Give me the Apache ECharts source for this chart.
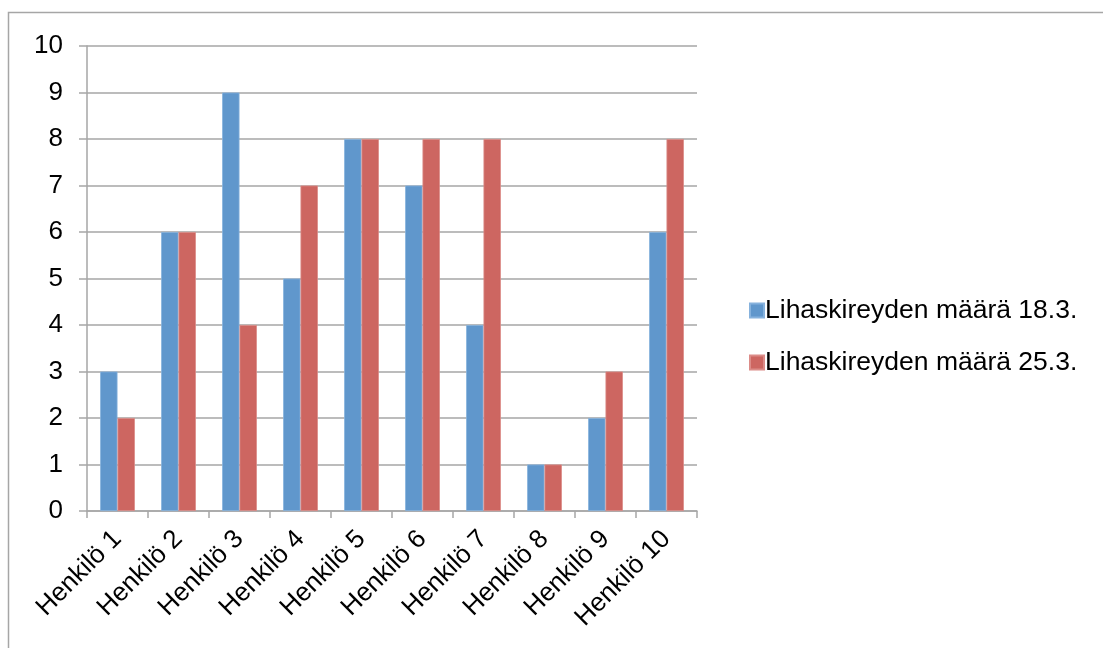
<!DOCTYPE html>
<html>
<head>
<meta charset="utf-8">
<script src="https://cdn.jsdelivr.net/npm/echarts@6/dist/echarts.min.js"></script>
<style>
  html, body { margin: 0; padding: 0; background: #fff; }
  #chart { width: 1103px; height: 648px; }
</style>
</head>
<body>
<div id="chart"></div>
<script>
// Henkilöt ja lihaskireyden määrät kahtena mittauspäivänä
const categories = ['Henkilö 1', 'Henkilö 2', 'Henkilö 3', 'Henkilö 4', 'Henkilö 5',
                    'Henkilö 6', 'Henkilö 7', 'Henkilö 8', 'Henkilö 9', 'Henkilö 10'];
const seriesNames = ['Lihaskireyden määrä 18.3.', 'Lihaskireyden määrä 25.3.'];
const values183 = [3, 6, 9, 5, 8, 7, 4, 1, 2, 6];
const values253 = [2, 6, 4, 7, 8, 8, 8, 1, 3, 8];

const FONT = '"Liberation Sans", Arial, sans-serif';
const GRID = '#a6a6a6';

const chart = echarts.init(document.getElementById('chart'), null, { renderer: 'canvas' });
chart.setOption({
  animation: false,
  backgroundColor: '#fff',
  graphic: [{
    type: 'rect',
    shape: { x: 8.5, y: 12.5, width: 1200, height: 800 },
    style: { fill: 'none', stroke: GRID, lineWidth: 1.5 },
    silent: true
  }],
  grid: { left: 87, right: 406, top: 46, bottom: 137, containLabel: false },
  legend: {
    orient: 'vertical',
    left: 744,
    top: 292,
    itemWidth: 14,
    itemHeight: 14,
    itemGap: 25,
    icon: 'rect',
    textStyle: { fontFamily: FONT, fontSize: 26.5, color: '#000', padding: [0, 0, 0, -4] },
    data: seriesNames
  },
  xAxis: {
    type: 'category',
    data: categories,
    boundaryGap: true,
    axisLine: { lineStyle: { color: GRID, width: 1.5 } },
    axisTick: { show: true, length: 7, inside: false, alignWithLabel: false, lineStyle: { color: GRID, width: 1.5 } },
    axisLabel: { rotate: 45, margin: 24, fontFamily: FONT, fontSize: 26, color: '#000', interval: 0 }
  },
  yAxis: {
    type: 'value',
    min: 0,
    max: 10,
    interval: 1,
    axisLine: { show: true, lineStyle: { color: GRID, width: 1.5 } },
    axisTick: { show: true, length: 8, lineStyle: { color: GRID, width: 1.5 } },
    axisLabel: { margin: 24, fontFamily: FONT, fontSize: 26, color: '#000' },
    splitLine: { show: true, lineStyle: { color: GRID, width: 1.5 } }
  },
  series: [
    {
      name: seriesNames[0],
      type: 'bar',
      data: values183,
      barGap: '0%',
      barCategoryGap: '43%',
      itemStyle: { color: '#6097cc', borderColor: '#86b2dd', borderWidth: 0.8 }
    },
    {
      name: seriesNames[1],
      type: 'bar',
      data: values253,
      itemStyle: { color: '#cd6661', borderColor: '#dc8c88', borderWidth: 0.8 }
    }
  ]
});
</script>
</body>
</html>
